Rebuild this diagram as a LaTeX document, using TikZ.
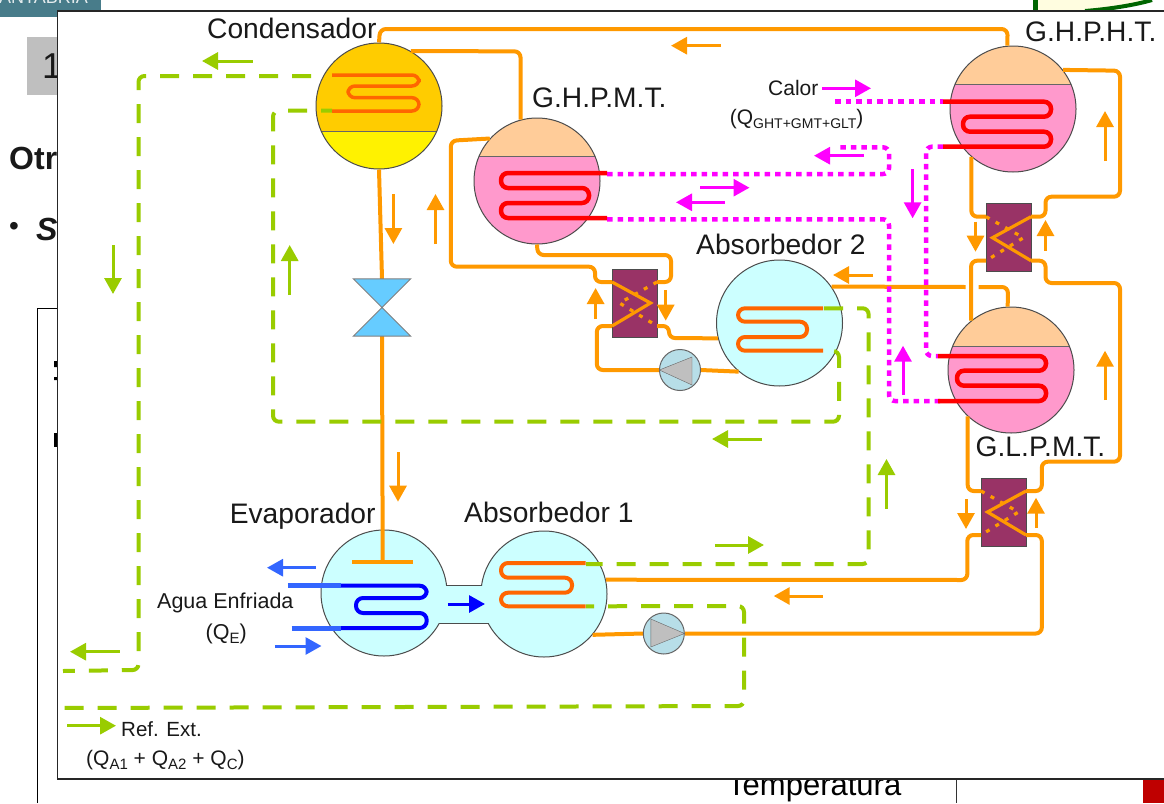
\documentclass[tikz,border=0pt]{standalone}
\usepackage{fontspec}
\setmainfont{Liberation Sans}
\usetikzlibrary{arrows.meta}
\definecolor{pipecol}{HTML}{FF9900}
\definecolor{coilcol}{HTML}{FF6600}
\definecolor{extcol}{HTML}{99CC00}
\definecolor{heatcol}{HTML}{FF00FF}
\definecolor{coldcol}{HTML}{3366FF}
\definecolor{vapcol}{HTML}{FFCC99}
\definecolor{solcol}{HTML}{FF99CC}
\definecolor{condcol}{HTML}{FFCC00}
\definecolor{abscol}{HTML}{CCFFFF}
\definecolor{hxcol}{HTML}{993366}
\definecolor{pumpcol}{HTML}{B7DEE8}
\definecolor{valvecol}{HTML}{66CCFF}
\definecolor{bannercol}{HTML}{487C8A}
\newcommand{\fs}[1]{\fontsize{#1}{#1}\selectfont}
\newcommand{\sbs}[1]{\raisebox{-4pt}{\fs{15}#1}}
\tikzset{
	pipe/.style={pipecol, line width=4pt, rounded corners=6pt},
	extline/.style={extcol, line width=4pt, rounded corners=6pt, dash pattern=on 19pt off 14pt},
	heatline/.style={heatcol, line width=4.5pt, rounded corners=6pt, dash pattern=on 5.5pt off 5pt},
	flow/.style={line width=3pt, -{Triangle[length=16pt,width=17pt]}},
	shell/.style={circle, draw=black!70, line width=1pt, minimum size=126pt, inner sep=0pt},
	pump/.style={circle, minimum size=41pt, inner sep=0pt},
	hxbox/.style={rectangle, draw=black!70, line width=1pt, fill=hxcol, minimum width=45pt, minimum height=68pt, inner sep=0pt},
	lab/.style={anchor=west, inner sep=0pt, text=black!90}
}
% vessel with vapour above and liquid below: name, x, y, level, upper and lower colour
\newcommand{\tank}[6]{
	\begin{scope}
		\clip (#2,#3) circle (63);
		\fill[#5] (#2-70,#3-70) rectangle (#2+70,#4);
		\fill[#6] (#2-70,#4) rectangle (#2+70,#3+70);
		\draw[black!60] (#2-70,#4) -- (#2+70,#4);
	\end{scope}
	\node[shell] (#1) at (#2,#3) {};
}
% serpentine: colour and width, start x, far bend x, near bend x, four levels
\newcommand{\serp}[8]{
	\draw[#1, rounded corners=7pt] (#2,#5) -- (#3,#5) -- (#3,#6) -- (#4,#6) -- (#4,#7) -- (#3,#7) -- (#3,#8) -- (#2,#8);
}
% exchanger: name, x, y, side of the solid vee
\newcommand{\exch}[4]{
	\node[hxbox] (#1) at (#2,#3) {};
	\coordinate (#1-nw) at (#2-22.5,#3-21);
	\coordinate (#1-ne) at (#2+22.5,#3-21);
	\coordinate (#1-sw) at (#2-22.5,#3+23);
	\coordinate (#1-se) at (#2+22.5,#3+23);
	\draw[pipecol, line width=3.2pt, dash pattern=on 4pt off 7pt] (#2-#4*22.5,#3-21) -- (#2+#4*15,#3) -- (#2-#4*22.5,#3+23);
	\draw[pipecol, line width=3.2pt] (#2+#4*22.5,#3-21) -- (#2-#4*16,#3) -- (#2+#4*22.5,#3+23);
}
\begin{document}
\begin{tikzpicture}[x=1pt, y=-1pt]
	\useasboundingbox (0,0) rectangle (1164,803);
	\clip (0,0) rectangle (1164,803);
	% what the slide shows round the frame
	\fill[white] (0,0) rectangle (1164,803);
	\fill[bannercol] (0,0) rectangle (101,16.7);
	\node[anchor=base west, inner sep=0pt, text=white!85!bannercol] (uni) at (-1,3.5) {\fs{18}ANTABRIA};
	\fill[yellow!12] (1036,0) -- (1036,11) -- (1085,11) .. controls (1110,9) and (1135,5) .. (1152,0) -- cycle;
	\draw[green!40!black, line width=5pt] (1035,0) -- (1035,11);
	\draw[green!40!black, line width=4pt] (1085,11) .. controls (1110,9) and (1135,5) .. (1152,0);
	\fill[black!25] (27,37) rectangle (60,95);
	\node[lab] (num) at (42,66) {\fs{36}1};
	\node[lab] (otr) at (9,158) {\fs{32}\bfseries Otr};
	\node[lab] (bul) at (9,229) {\fs{28}•};
	\node[lab] (ess) at (36,229) {\fs{32}\bfseries\itshape S};
	\draw[black, line width=1pt] (37.5,803) -- (37.5,308) -- (60,308);
	\fill[black] (54,361) rectangle (58,367) (54,377) rectangle (58,380);
	\fill[black] (54,433) rectangle (58,447);
	\node[anchor=base west, inner sep=0pt] (tem) at (727,795.7) {\fs{31}Temperatura};
	\draw[black!80, line width=1pt] (956,779) -- (956,803);
	\fill[red!75!black] (1143,779) rectangle (1164,803);
	\draw[black!85, line width=1.2pt, fill=white] (57.5,11) rectangle (1175,779);
	% vessels
	\tank{cond}{379}{106}{131}{condcol}{yellow}
	\tank{ghpmt}{537}{181}{156}{vapcol}{solcol}
	\tank{ghpht}{1013}{109}{84}{vapcol}{solcol}
	\tank{glpmt}{1011}{370}{346}{vapcol}{solcol}
	\node[shell, fill=abscol] (abstwo) at (779.5,323) {};
	\node[shell, fill=abscol] (evap) at (384,593) {};
	\node[shell, fill=abscol] (absone) at (544,594) {};
	\fill[abscol] (436,586) rectangle (492,622.5);
	\draw[black!70, line width=1pt] (446.6,585) -- (481.5,585) (438.5,623) -- (488.5,623);
	% exchangers
	\exch{hxa}{1008.5}{237.7}{1}
	\exch{hxb}{634.5}{303}{-1}
	\exch{hxc}{1003.5}{512}{1}
	\node[rectangle, minimum width=57pt, minimum height=57pt, inner sep=0pt] (valve) at (382,307.5) {};
	\node[pump] (pumpb) at (680,370) {};
	\node[pump] (pumpa) at (663.8,633.5) {};
	\coordinate (tbar) at (382.7,562);
	% refrigerant and solution pipes
	\draw[pipe] (cond.north) -- (380,29) -- (1007.5,29) -- (ghpht.95);
	\draw[pipe] (cond.60) -- (520.5,51.4) -- (ghpmt.105);
	\draw[pipe] (cond.south) -- (valve.north);
	\draw[pipe] (valve.south) -- (tbar);
	\draw[pipecol, line width=4pt] (352,562) -- (412.5,562);
	\draw[pipe] (ghpmt.138) -- (450.8,140.7) -- (450.8,266.7) -- (595,266.7) |- (hxb-nw);
	\draw[pipe] (ghpmt.south) -- (537.7,255) -- (671,255) |- (hxb-ne);
	\draw[pipe] (hxb-se) -- (669,326) -- (669,338) -- (abstwo.194);
	\draw[pipe] (hxb-sw) -- (596.8,326) -- (596.8,370) -- (pumpb.west);
	\draw[pipe] (pumpb.east) -- (abstwo.230);
	\draw[pipe] (abstwo.35) -- (965.5,287);
	\draw[pipe] (978.5,287) -- (1008,287) -- (glpmt.93);
	\draw[pipe] (glpmt.129) |- (hxa-sw);
	\draw[pipe] (ghpht.229) |- (hxa-nw);
	\draw[pipe] (hxa-ne) -- (1045.5,216.7) -- (1045.5,196.7) -- (1120,196.7) -- (1120,70.7) -- (ghpht.38);
	\draw[pipe] (hxa-se) -- (1045.5,260.7) -- (1045.5,283) -- (1120,283) -- (1120,461.7) -- (1041.8,461.7) |- (hxc-ne);
	\draw[pipe] (glpmt.227) |- (hxc-nw);
	\draw[pipe] (hxc-sw) -- (967.3,535) -- (967.3,580) -- (absone.13);
	\draw[pipe] (hxc-se) -- (1041.8,535) -- (1041.8,633.5) -- (pumpa.east);
	\draw[pipe] (pumpa.west) -- (absone.320);
	% pumps and valve go over the pipes
	\draw[black!60, line width=1pt, fill=pumpcol] (pumpb) circle (20.5);
	\draw[black!60, line width=1pt, fill=pumpcol] (pumpa) circle (20.5);
	\draw[black!60, fill=black!25] (pumpb.west) -- (692,357) -- (692,385) -- cycle;
	\draw[black!60, fill=black!25] (pumpa.east) -- (650.8,619) -- (650.8,647) -- cycle;
	\draw[black!50, line width=1pt, fill=valvecol] (valve.north west) -- (valve.north east) -- (valve.south west) -- (valve.south east) -- cycle;
	% external cooling water
	\draw[extline] (311,76) -- (138.5,76) -- (138.5,670) -- (63,671);
	\draw[extline, dash phase=8pt] (332,110.7) -- (273,110.7) -- (273,421.7) -- (839,421.7) -- (839,351) -- (823,351);
	\draw[extline] (824,308.3) -- (868.6,308.3) -- (868.6,564) -- (586,564);
	\draw[extline, dash phase=11pt] (586,606.3) -- (744,606) -- (744,706) -- (59,708);
	% driving heat
	\draw[heatline] (835,101.7) -- (943,101.7);
	\draw[heatline] (607,174) -- (889,174) -- (889,147.3) -- (837,147.3);
	\draw[heatline] (607,219.3) -- (889,219.3) -- (889,401) -- (941,401);
	\draw[heatline] (943,146.7) -- (926,146.7) -- (926,356) -- (938,356);
	% coils
	\serp{coilcol, line width=3.5pt}{332}{419}{348}{75}{86}{97.7}{111}
	\serp{red, line width=4.5pt}{607}{501}{589}{173}{188}{203}{218}
	\serp{red, line width=4.5pt}{943}{1051}{963}{101.7}{116.7}{131.7}{146.7}
	\serp{red, line width=4.5pt}{938}{1046}{957}{356}{370.7}{385.7}{401}
	\serp{coilcol, line width=4pt}{823}{738}{807}{308.3}{321.7}{337}{350.7}
	\serp{coilcol, line width=4pt}{585.5}{501}{572}{563}{577.7}{592.7}{606.3}
	\serp{blue, line width=4pt}{340.6}{426.7}{356}{585.7}{598}{613}{628}
	\draw[coldcol, line width=5pt] (287.8,585.7) -- (340.6,585.7);
	\draw[coldcol, line width=5pt] (291.6,628) -- (340.6,628);
	% flow directions
	\foreach \xa/\ya/\xb/\yb in {720.8/45.7/671/45.7, 393.4/194/393.4/244, 435.5/244/435.5/194, 595.6/319/595.6/288, 665.7/290/665.7/320.7, 873/275/833/275, 975.5/221.7/975.5/251.7, 1045.5/250.7/1045.5/220, 1105/161/1105/111, 1105/400/1105/350.7, 398/452/398/501.7, 966/499/966/529, 1036/528/1036/497.7, 822.8/596/773.7/596}
		\draw[flow, pipecol] (\xa,\ya) -- (\xb,\yb);
	\foreach \xa/\ya/\xb/\yb in {252.6/61/202/61, 113/245/113/294, 289.7/295/289.7/245, 761.7/439/712/439, 886.5/509/886.5/459, 714.8/545/764/545, 119.8/651.7/70/651.7, 67/725.7/116/725.7}
		\draw[flow, extcol] (\xa,\ya) -- (\xb,\yb);
	\foreach \xa/\ya/\xb/\yb in {822/88.3/871/88.3, 863.8/155.7/814/155.7, 700/187.7/749.5/187.7, 724.5/202.3/676/202.3, 912.6/169/912.6/218.3, 903/395/903/345.7}
		\draw[flow, heatcol] (\xa,\ya) -- (\xb,\yb);
	\draw[flow, coldcol] (315.7,567.7) -- (267,567.7);
	\draw[flow, coldcol] (274.8,646) -- (321.5,646);
	\draw[flow, blue] (447.8,604) -- (485,604);
	% labels
	\node[lab] (lcond) at (207,28) {\fs{28.2}Condensador};
	\node[lab] (lmt) at (532,98) {\fs{28.2}G.H.P.M.T.};
	\node[lab] (lht) at (1025,32) {\fs{28.2}G.H.P.H.T.};
	\node[lab] (llt) at (975.5,446.7) {\fs{28.2}G.L.P.M.T.};
	\node[lab] (labt) at (696,244) {\fs{28.2}Absorbedor 2};
	\node[lab] (labo) at (464,512) {\fs{28.2}Absorbedor 1};
	\node[lab] (lev) at (229.6,516) {\fs{28.2}Evaporador};
	\node[lab] (lcal) at (768,88) {\fs{21}Calor};
	\node[lab] (lqg) at (729.7,119) {\fs{21}(Q\raisebox{-4pt}{\fs{14}GHT+GMT+GLT})};
	\node[lab] (lagua) at (157,603) {\fs{21.5}Agua Enfriada};
	\node[lab] (lqe) at (205.5,634) {\fs{21.5}(Q\sbs{E})};
	\node[lab] (lref) at (121,729) {\fs{20.5}Ref. Ext.};
	\node[lab] (lqa) at (86,760) {\fs{21}(Q\sbs{A1} + Q\sbs{A2} + Q\sbs{C})};
\end{tikzpicture}
\end{document}
